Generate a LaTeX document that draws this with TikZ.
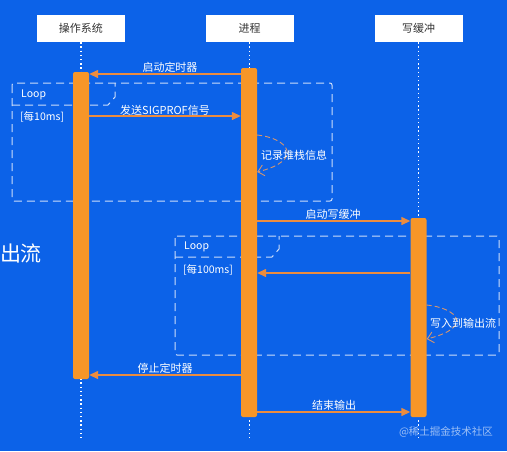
\documentclass[tikz,border=0pt]{standalone}
\usepackage{fontspec}
\setmainfont{Noto Sans CJK SC}
\usetikzlibrary{arrows.meta,calc}
\definecolor{bgblue}{RGB}{12,98,232}
\definecolor{barorange}{RGB}{247,150,40}
\definecolor{msgorange}{RGB}{236,140,62}
\definecolor{selfline}{RGB}{215,150,110}
\definecolor{loopline}{RGB}{205,222,250}
\definecolor{hdrtext}{RGB}{50,50,50}
\tikzset{
  hdr/.style={draw=none,fill=white,minimum width=88pt,minimum height=27pt,inner sep=0pt,text=hdrtext,font=\fontsize{11}{13}\selectfont},
  lifeline/.style={white,line width=1.6pt,dash pattern=on 1.4pt off 2.8pt},
  actbar/.style={fill=barorange,draw=none,rounded corners=2pt,inner sep=0pt,minimum width=16pt},
  msg/.style={msgorange,line width=1.4pt,-{Triangle[length=9pt,width=8pt]}},
  selfmsg/.style={selfline,line width=0.9pt,dash pattern=on 5pt off 3pt,-{Straight Barb[length=6pt,width=11pt]}},
  lbl/.style={text=white,font=\fontsize{11}{13}\selectfont,inner sep=0pt},
  loopbox/.style={loopline,line width=1pt,dash pattern=on 8pt off 5pt},
  looptext/.style={text=white,font=\fontsize{10.5}{12}\selectfont,inner sep=0pt,anchor=west}
}
\begin{document}
\begin{tikzpicture}[x=1pt,y=-1pt]
\useasboundingbox (0,0) rectangle (507,451);
\fill[bgblue] (0,0) rectangle (507,451);
% headers
\node[hdr] (os) at (81,28.5) {操作系统};
\node[hdr] (proc) at (249.5,28.5) {进程};
\node[hdr] (buf) at (418.5,28.5) {写缓冲};
% lifelines
\coordinate (bot) at (0,438);
\draw[lifeline] (os.south) -- (os.south |- bot);
\draw[lifeline] (proc.south) -- (proc.south |- bot);
\draw[lifeline] (buf.south) -- (buf.south |- bot);
% loop boxes
\draw[loopbox,rounded corners=2pt] (12,83) rectangle (332,201);
\draw[loopbox] (12,105) -- (108,105) -- (115,97) -- (115,83);
\draw[loopbox,rounded corners=2pt] (175,236) rectangle (499,355);
\draw[loopbox] (175,257) -- (272,257) -- (279,249) -- (279,236);
% activation bars
\node[actbar,minimum height=307pt] (osbar) at (81,225.5) {};
\node[actbar,minimum height=349pt] (pbar) at (249,242.5) {};
\node[actbar,minimum height=199pt] (bbar) at (418.5,317.5) {};
% loop labels
\node[looptext] (l1) at (21,95) {Loop};
\node[looptext] (c1) at (20,117) {[每10ms]};
\node[looptext] (l2) at (184,247) {Loop};
\node[looptext] (c2) at (183,270) {[每100ms]};
% messages
\coordinate (y1) at (0,74);
\coordinate (y2) at (0,116);
\coordinate (y3) at (0,221);
\coordinate (y4) at (0,273);
\coordinate (y5) at (0,375);
\coordinate (y6) at (0,412);
\draw[msg] (pbar.west |- y1) -- (osbar.east |- y1);
\node[lbl] (m1) at (170,67) {启动定时器};
\draw[msg] (osbar.east |- y2) -- (pbar.west |- y2);
\node[lbl] (m2) at (165,110) {发送SIGPROF信号};
\draw[msg] (pbar.east |- y3) -- (bbar.west |- y3);
\node[lbl] (m3) at (333,214) {启动写缓冲};
\draw[msg] (bbar.west |- y4) -- (pbar.east |- y4);
\draw[msg] (pbar.west |- y5) -- (osbar.east |- y5);
\node[lbl] (m5) at (165,368) {停止定时器};
\draw[msg] (pbar.east |- y6) -- (bbar.west |- y6);
\node[lbl] (m6) at (334,405) {结束输出};
% self messages
\coordinate (s1a) at (0,135);
\coordinate (s1b) at (0,172);
\draw[selfmsg] (pbar.east |- s1a) .. controls (288,138) and (305,160) .. (pbar.east |- s1b);
\node[lbl] (m4) at (294,155) {记录堆栈信息};
\coordinate (s2a) at (0,305);
\coordinate (s2b) at (0,339);
\draw[selfmsg] (bbar.east |- s2a) .. controls (457,308) and (475,327) .. (bbar.east |- s2b);
\node[lbl] (m7) at (463,323) {写入到输出流};
% stray texts
\node[text=white,font=\fontsize{21}{24}\selectfont,inner sep=0pt] (side) at (21,253) {出流};
\node[text=white,opacity=0.6,font=\fontsize{10.5}{12}\selectfont,inner sep=0pt] (wm) at (446,432) {@稀土掘金技术社区};
\end{tikzpicture}
\end{document}
